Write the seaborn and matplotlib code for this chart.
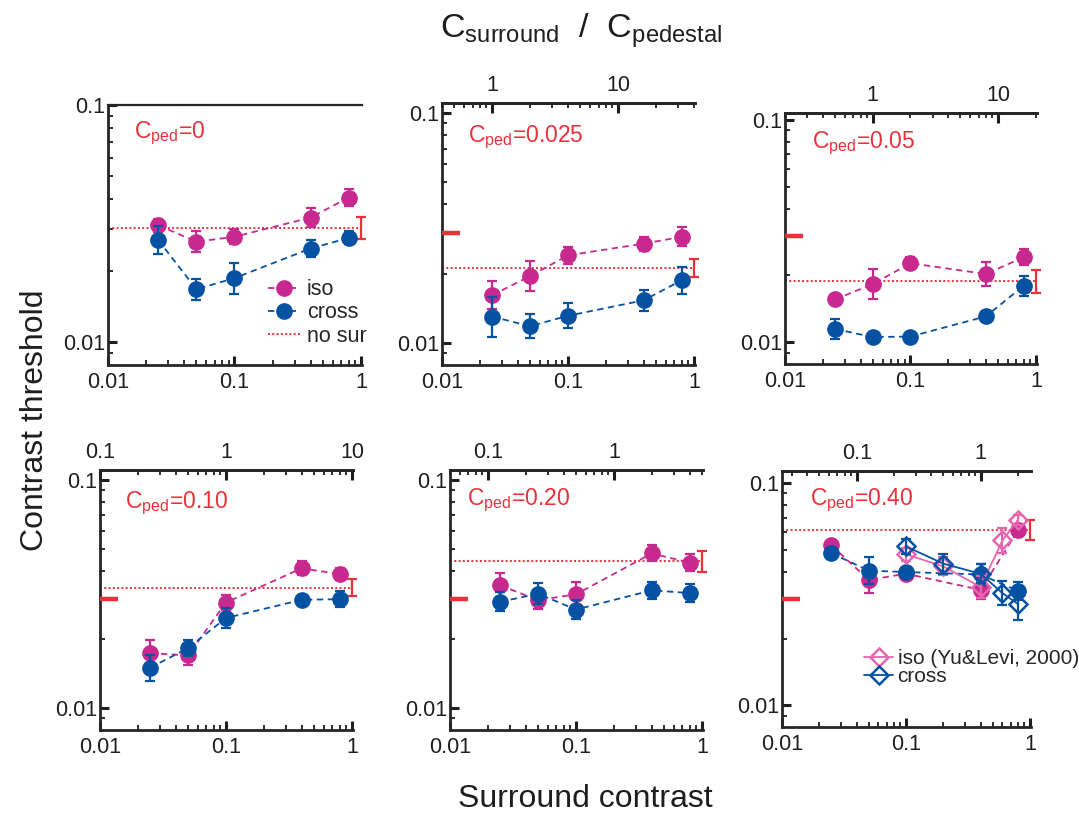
import numpy as np
import pandas as pd
import matplotlib
matplotlib.use("Agg")
import matplotlib.pyplot as plt
import seaborn as sns
from matplotlib.lines import Line2D
from matplotlib.ticker import FuncFormatter, NullFormatter, FixedLocator

# ---------------- data ----------------
surround = [0.025, 0.05, 0.1, 0.4, 0.8]
yl_surround = [0.1, 0.2, 0.4, 0.6, 0.8]
cped = [0.0, 0.025, 0.05, 0.10, 0.20, 0.40]
cped_labels = ["0", "0.025", "0.05", "0.10", "0.20", "0.40"]

iso = [
    [0.0311, 0.0265, 0.0278, 0.0335, 0.0407],
    [0.0161, 0.0195, 0.0240, 0.0270, 0.0289],
    [0.0156, 0.0183, 0.0227, 0.0203, 0.0242],
    [0.0174, 0.0170, 0.0290, 0.0410, 0.0386],
    [0.0345, 0.0297, 0.0315, 0.0476, 0.0434],
    [0.0525, 0.0367, 0.0391, 0.0331, 0.0612],
]
# error bar half-width in log10 units
iso_err = [
    [0.028, 0.044, 0.031, 0.040, 0.037],
    [0.060, 0.064, 0.036, 0.030, 0.041],
    [0.020, 0.066, 0.027, 0.052, 0.035],
    [0.057, 0.040, 0.032, 0.030, 0.026],
    [0.056, 0.040, 0.053, 0.035, 0.036],
    [0.015, 0.061, 0.015, 0.040, 0.030],
]
cross = [
    [0.0269, 0.0167, 0.0186, 0.0248, 0.0275],
    [0.0130, 0.0118, 0.0131, 0.0153, 0.0187],
    [0.0115, 0.01057, 0.01063, 0.0131, 0.0180],
    [0.0150, 0.0183, 0.0248, 0.0298, 0.0300],
    [0.0292, 0.0317, 0.0270, 0.0328, 0.0319],
    [0.0484, 0.0404, 0.0398, 0.0388, 0.0327],
]
cross_err = [
    [0.058, 0.044, 0.065, 0.035, 0.027],
    [0.087, 0.052, 0.055, 0.045, 0.058],
    [0.045, 0.022, 0.015, 0.022, 0.045],
    [0.058, 0.036, 0.046, 0.022, 0.035],
    [0.042, 0.045, 0.040, 0.036, 0.040],
    [0.015, 0.060, 0.015, 0.048, 0.040],
]
nosur = [0.0303, 0.0211, 0.0188, 0.0337, 0.0440, 0.0612]
nosur_err = [0.046, 0.040, 0.052, 0.036, 0.046, 0.045]
base_threshold = 0.030

yl_iso = [0.0478, 0.0422, 0.0341, 0.0552, 0.0684]
yl_iso_err = [0.030, 0.040, 0.048, 0.055, 0.022]
yl_cross = [0.0519, 0.0434, 0.0391, 0.0320, 0.0286]
yl_cross_err = [0.033, 0.045, 0.042, 0.055, 0.070]

# ---------------- style ----------------
sns.set_theme(style="ticks")
plt.rcParams["font.family"] = ["Liberation Sans", "DejaVu Sans"]
plt.rcParams["mathtext.fontset"] = "custom"
plt.rcParams["mathtext.rm"] = "Liberation Sans"
plt.rcParams["mathtext.it"] = "Liberation Sans:italic"
plt.rcParams["axes.unicode_minus"] = False

C_ISO = "#c8298f"
C_CROSS = "#0552a2"
C_YLISO = "#e866b0"
C_RED = "#e8323a"
C_TXT = "#1e1e1e"

W, H = 1079, 819
fig = plt.figure(figsize=(W / 100, H / 100), dpi=100)

# axes boxes in pixels: x0, x1, ytop, ybottom
boxes = [
    (108, 362, 105, 365),
    (442, 695, 103, 365),
    (785, 1037, 113, 364),
    (100, 353, 470, 730),
    (450, 703, 470, 730),
    (782, 1031, 471, 727),
]
ytops = [0.1, 0.1105, 0.1075, 0.1106, 0.1106, 0.1133]
txt_pos = [(0.102, 0.89), (0.103, 0.87), (0.107, 0.88), (0.099, 0.873), (0.067, 0.885), (0.112, 0.887)]

fmt = FuncFormatter(lambda v, p: "%g" % v)
TFS = 15.5
MS = 11
y_minor = [0.009] + [k / 100 for k in range(2, 10)]
x_minor = [k / 100 for k in range(2, 10)] + [k / 10 for k in range(2, 10)]


def err_bounds(y, e):
    y = np.asarray(y)
    e = np.asarray(e)
    return [y - y / 10 ** e, y * 10 ** e - y]


def draw_series(ax, x, y, e, color, marker, ls, z, mfc=None, ms=MS, mew=1.0, lw=1.3):
    ax.errorbar(x, y, yerr=err_bounds(y, e), fmt="none", ecolor=color,
                elinewidth=1.6, capsize=3.5, capthick=1.6, zorder=z)
    df = pd.DataFrame({"x": x, "y": y})
    sns.lineplot(data=df, x="x", y="y", ax=ax, color=color, marker=marker,
                 markersize=ms, markeredgecolor=color,
                 markerfacecolor=color if mfc is None else mfc,
                 markeredgewidth=mew, linestyle=ls, linewidth=lw,
                 errorbar=None, zorder=z + 0.5)


dash = (0, (3.5, 2.5))
dot = (0, (1, 1.2))

for i in range(6):
    x0, x1, yt, yb = boxes[i]
    ax = fig.add_axes([x0 / W, 1 - yb / H, (x1 - x0) / W, (yb - yt) / H])
    ax.set_xscale("log")
    ax.set_yscale("log")

    # no-surround threshold
    ax.axhline(nosur[i], color=C_RED, linestyle=dot, linewidth=1.4, zorder=1)
    eb = ax.errorbar([1.0], [nosur[i]], yerr=err_bounds([nosur[i]], [nosur_err[i]]),
                     fmt="none", ecolor=C_RED, elinewidth=1.6, capsize=3.5,
                     capthick=1.6, zorder=2)
    for art in list(eb.lines[1]) + list(eb.lines[2]):
        art.set_clip_on(False)
    if i > 0:
        ax.plot([0.01, 0.0139], [base_threshold, base_threshold], color=C_RED,
                linewidth=3.2, solid_capstyle="butt", zorder=3, clip_on=False)

    draw_series(ax, surround, iso[i], iso_err[i], C_ISO, "o", dash, 3)
    draw_series(ax, surround, cross[i], cross_err[i], C_CROSS, "o", dash, 5)
    if i == 5:
        draw_series(ax, yl_surround, yl_iso, yl_iso_err, C_YLISO, "D", "-", 7,
                    mfc="none", ms=9, mew=1.8, lw=1.3)
        draw_series(ax, yl_surround, yl_cross, yl_cross_err, C_CROSS, "D", "-", 9,
                    mfc="none", ms=9, mew=1.8, lw=1.3)

    ax.set_xlim(0.01, 1.02)
    ax.set_ylim(0.008, ytops[i])
    ax.set_xlabel("")
    ax.set_ylabel("")
    ax.spines["right"].set_visible(False)
    ax.spines["left"].set_linewidth(2.0)
    ax.spines["bottom"].set_linewidth(2.0)
    ax.spines["top"].set_linewidth(1.6 if i == 0 else 2.0)

    ax.xaxis.set_major_locator(FixedLocator([0.01, 0.1, 1]))
    ax.yaxis.set_major_locator(FixedLocator([0.01, 0.1]))
    ax.xaxis.set_minor_locator(FixedLocator(x_minor))
    ax.yaxis.set_minor_locator(FixedLocator(y_minor))
    ax.xaxis.set_major_formatter(fmt)
    ax.yaxis.set_major_formatter(fmt)
    ax.xaxis.set_minor_formatter(NullFormatter())
    ax.yaxis.set_minor_formatter(NullFormatter())
    ax.tick_params(axis="both", which="both", direction="in", top=False, right=False,
                   labelsize=TFS, colors=C_TXT)
    ax.tick_params(axis="both", which="major", length=6.5, width=2.2)
    ax.tick_params(axis="both", which="minor", length=3.5, width=1.3)
    ax.tick_params(axis="x", which="major", pad=5)
    ax.tick_params(axis="y", which="major", pad=2)

    ax.text(txt_pos[i][0], txt_pos[i][1], "C$_{\\rm ped}$=" + cped_labels[i],
            transform=ax.transAxes, color=C_RED, fontsize=16.5, ha="left", va="center")

    if i > 0:
        c = cped[i]
        ax2 = ax.twiny()
        ax2.set_xscale("log")
        ax2.set_xlim(0.01 / c, 1.02 / c)
        for s in ["right", "left", "bottom"]:
            ax2.spines[s].set_visible(False)
        ax2.spines["top"].set_linewidth(2.0)
        ax2.xaxis.set_major_formatter(fmt)
        ax2.xaxis.set_minor_formatter(NullFormatter())
        ax2.tick_params(axis="x", which="both", direction="in", top=True, bottom=False,
                        labelsize=TFS, colors=C_TXT)
        ax2.tick_params(axis="x", which="major", length=7.5, width=2.2, pad=5)
        ax2.tick_params(axis="x", which="minor", length=3.5, width=1.3)

    if i == 0:
        handles = [
            Line2D([], [], color=C_ISO, marker="o", markersize=MS, linestyle=dash, linewidth=1.3),
            Line2D([], [], color=C_CROSS, marker="o", markersize=MS, linestyle=dash, linewidth=1.3),
            Line2D([], [], color=C_RED, linestyle=dot, linewidth=1.4),
        ]
        ax.legend(handles, ["iso", "cross", "no sur"], loc="upper left",
                  bbox_to_anchor=(0.63, 0.33), frameon=False, fontsize=15.5,
                  handlelength=1.5, handletextpad=0.3, labelspacing=0.1,
                  borderpad=0, borderaxespad=0)
    if i == 5:
        handles = [
            Line2D([], [], color=C_YLISO, marker="D", markersize=9, mfc="none", mew=1.8, linewidth=1.3),
            Line2D([], [], color=C_CROSS, marker="D", markersize=9, mfc="none", mew=1.8, linewidth=1.3),
        ]
        ax.legend(handles, ["iso (Yu&Levi, 2000)", "cross"], loc="upper left",
                  bbox_to_anchor=(0.33, 0.305), frameon=False, fontsize=15,
                  handlelength=1.4, handletextpad=0.2, labelspacing=-0.05,
                  borderpad=0, borderaxespad=0)

fig.text(0.032, 0.487, "Contrast threshold", rotation=90, fontsize=23,
         ha="center", va="center", color=C_TXT)
fig.text(0.542, 0.024, "Surround contrast", fontsize=23, ha="center", va="center",
         color=C_TXT)
fig.text(0.539, 0.962, "C$_{\\rm surround}$  /  C$_{\\rm pedestal}$", fontsize=24.5,
         ha="center", va="center", color=C_TXT)

fig.savefig("out.png", dpi=100)
